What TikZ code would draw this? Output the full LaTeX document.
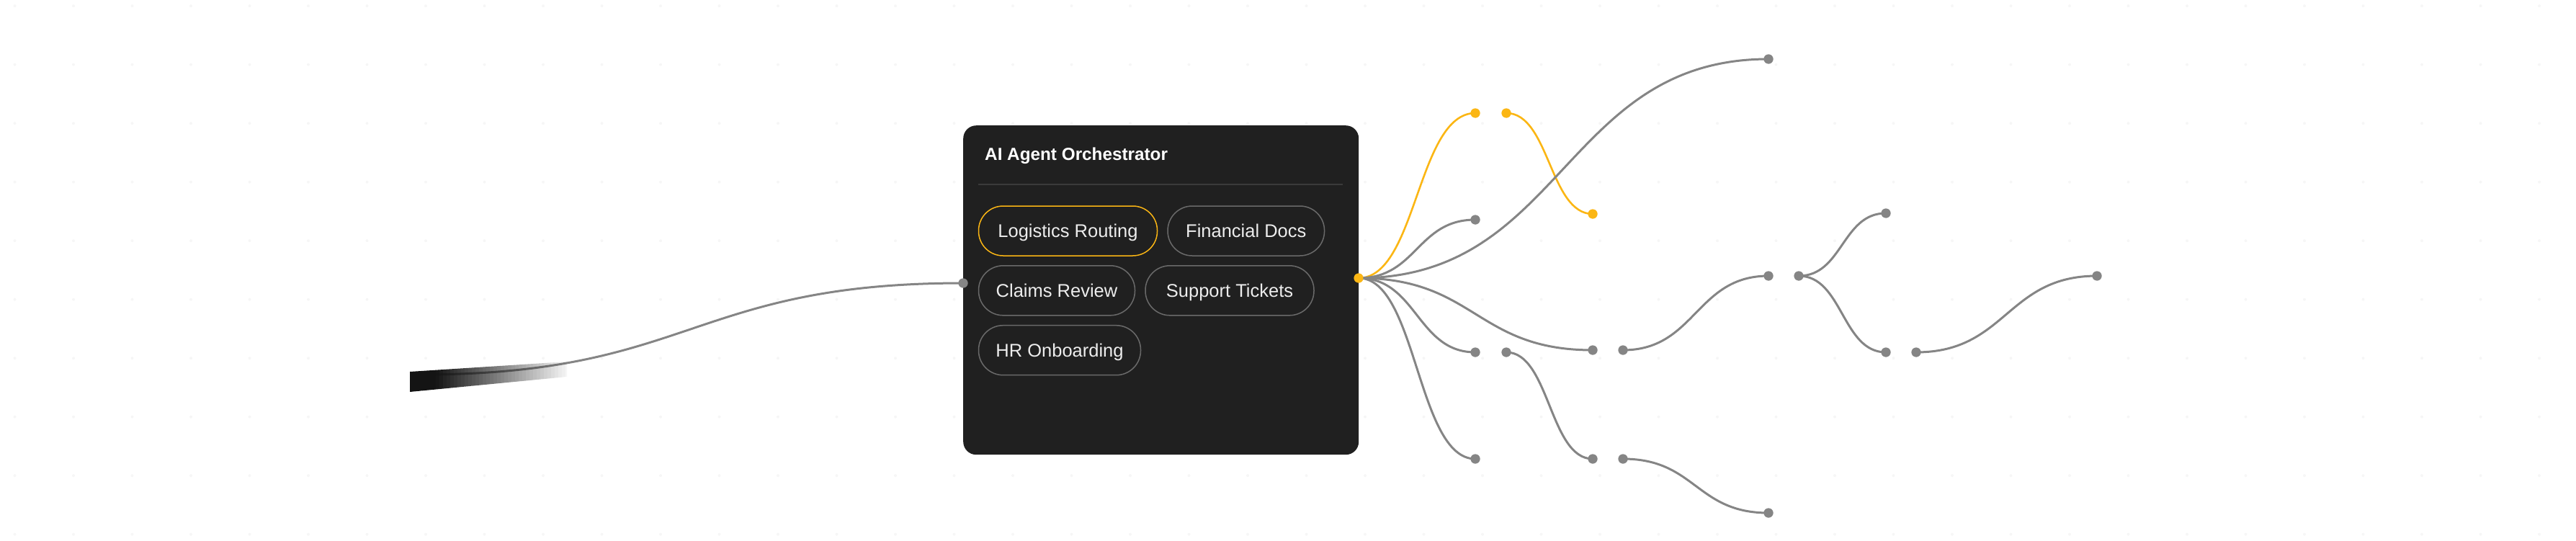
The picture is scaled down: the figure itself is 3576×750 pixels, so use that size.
\documentclass[tikz,border=0pt]{standalone}
\usepackage{fontspec}
\setmainfont{Liberation Sans}
\definecolor{panel}{HTML}{202020}
\definecolor{edgegray}{HTML}{858585}
\definecolor{amber}{HTML}{FBB614}
\definecolor{pillline}{HTML}{6A6A6A}
\definecolor{pilltext}{HTML}{EDEDED}
\definecolor{sepline}{HTML}{3A3A3A}
\definecolor{griddot}{HTML}{F6F6F6}
\definecolor{stubblack}{HTML}{141414}
\begin{document}
\begin{tikzpicture}[x=1pt,y=-1pt,
  wire/.style={draw=edgegray, line width=3pt},
  hotwire/.style={draw=amber, line width=2.6pt},
  gdot/.style={circle, fill=edgegray, inner sep=0pt, minimum size=13pt},
  odot/.style={circle, fill=amber, inner sep=0pt, minimum size=13pt},
  pill/.style={draw=pillline, line width=1.5pt, rounded corners=34pt, minimum height=69pt, inner sep=0pt, text height=18.3pt, text depth=0pt, text=pilltext, font=\fontsize{25.5}{30}\selectfont},
  hotpill/.style={pill, draw=amber},
  panelbox/.style={fill=panel, rounded corners=18pt, inner sep=0pt, minimum width=549pt, minimum height=457pt},
  titletext/.style={anchor=base west, inner sep=0pt, text=white, font=\bfseries\fontsize{24.3}{28}\selectfont},
]
\useasboundingbox (0,0) rectangle (3576,750);
% faint background dot grid
\foreach \i in {0,...,43}{
  \foreach \j in {0,...,9}{
    \fill[griddot] (20.5+81.5*\i, 8.2+81.5*\j) circle (2pt);
  }
}
% input wire
\coordinate (insrc) at (583,520);
\coordinate (inport) at (1337,393);
\draw[wire] (insrc) .. controls +(377,0) and +(-377,0) .. (inport);
% fading stub, drawn as thin slices of falling opacity
\begin{scope}
  \clip (569,516) -- (787,502) -- (787,523) -- (569,544) -- cycle;
  \foreach \k in {0,...,45}{
    \pgfmathsetmacro\xa{565+5*\k}
    \pgfmathsetmacro\op{max(0,min(1,(795-(\xa+2.5))/190))}
    \fill[stubblack, fill opacity=\op] (\xa,490) rectangle (\xa+5,550);
  }
\end{scope}
% panel
\node[panelbox, anchor=north west] (orch) at (1337,174) {};
\node[titletext] (title) at (1367,222) {AI Agent Orchestrator};
\coordinate (sepL) at (1358,256);
\coordinate (sepR) at (1864,256);
\draw[sepline, line width=1.5pt] (sepL) -- (sepR);
\node[hotpill, minimum width=248pt] (p1) at (1482.5,320.5) {Logistics Routing};
\node[pill, minimum width=217.5pt] (p2) at (1729.8,320.5) {Financial Docs};
\node[pill, minimum width=217pt] (p3) at (1467,403.3) {Claims Review};
\node[pill, minimum width=234pt] (p4) at (1707,403.3) {Support Tickets};
\node[pill, minimum width=225pt] (p5) at (1471,486.2) {HR Onboarding};
\node[gdot] (in) at (inport) {};
% output ports
\node[odot] (src) at (1886,386) {};
\node[odot] (o1) at (2048,157) {};
\node[odot] (o2) at (2091,157) {};
\node[odot] (o3) at (2211,297) {};
\node[gdot] (gt) at (2455,82) {};
\node[gdot] (g1) at (2048,305) {};
\node[gdot] (g2) at (2211,486) {};
\node[gdot] (g2b) at (2253,486) {};
\node[gdot] (g3) at (2048,489) {};
\node[gdot] (g3b) at (2091,489) {};
\node[gdot] (g4) at (2048,637) {};
\node[gdot] (g5) at (2455,383) {};
\node[gdot] (g5b) at (2497,383) {};
\node[gdot] (g6) at (2618,296) {};
\node[gdot] (g7) at (2618,489) {};
\node[gdot] (g7b) at (2660,489) {};
\node[gdot] (g8) at (2911,383) {};
\node[gdot] (g9) at (2211,637) {};
\node[gdot] (g9b) at (2253,637) {};
\node[gdot] (g10) at (2455,712) {};
% orange wires
\draw[hotwire] (src.center) .. controls +(81,0) and +(-81,0) .. (o1.center);
\draw[hotwire] (o2.center) .. controls +(60,0) and +(-60,0) .. (o3.center);
% gray wires
\draw[wire] (src.center) .. controls +(284.5,0) and +(-284.5,0) .. (gt.center);
\draw[wire] (src.center) .. controls +(81,0) and +(-81,0) .. (g1.center);
\draw[wire] (src.center) .. controls +(162.5,0) and +(-162.5,0) .. (g2.center);
\draw[wire] (src.center) .. controls +(81,0) and +(-81,0) .. (g3.center);
\draw[wire] (src.center) .. controls +(81,0) and +(-81,0) .. (g4.center);
\draw[wire] (g2b.center) .. controls +(101,0) and +(-101,0) .. (g5.center);
\draw[wire] (g5b.center) .. controls +(61,0) and +(-61,0) .. (g6.center);
\draw[wire] (g5b.center) .. controls +(61,0) and +(-61,0) .. (g7.center);
\draw[wire] (g7b.center) .. controls +(125.5,0) and +(-125.5,0) .. (g8.center);
\draw[wire] (g3b.center) .. controls +(60,0) and +(-60,0) .. (g9.center);
\draw[wire] (g9b.center) .. controls +(101,0) and +(-101,0) .. (g10.center);
% redraw dots on top of the wires
\foreach \n in {in,gt,g1,g2,g2b,g3,g3b,g4,g5,g5b,g6,g7,g7b,g8,g9,g9b,g10}{
  \fill[edgegray] (\n.center) circle (6.5pt);
}
\foreach \n in {o1,o2,o3,src}{
  \fill[amber] (\n.center) circle (6.5pt);
}
\end{tikzpicture}
\end{document}
